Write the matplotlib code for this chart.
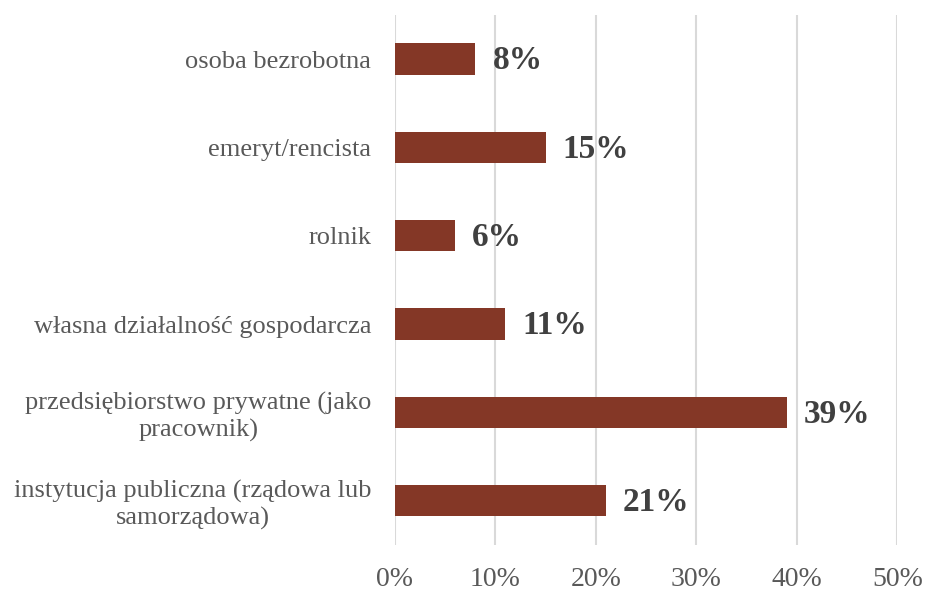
import matplotlib.pyplot as plt
import numpy as np

plt.rcParams['font.family'] = ['Liberation Serif', 'DejaVu Serif']

# categories listed bottom to top
categories = [
    'instytucja publiczna (rządowa lub\nsamorządowa)',
    'przedsiębiorstwo prywatne (jako\npracownik)',
    'własna działalność gospodarcza',
    'rolnik',
    'emeryt/rencista',
    'osoba bezrobotna',
]
shares = [21, 39, 11, 6, 15, 8]
ticks = [0, 10, 20, 30, 40, 50]

bar_color = '#843726'
text_color = '#595959'

fig = plt.figure(figsize=(9.25, 5.93), dpi=100)
ax = fig.add_axes([0.427, 0.081, 0.543, 0.894])

y = np.arange(len(categories))
ax.barh(y, shares, height=0.355, color=bar_color, zorder=3)

for yi, v in zip(y, shares):
    ax.text(v + 1.7, yi - 0.02, f'{v}%', va='center', ha='left',
            fontsize=24, fontweight='bold', color='#404040')

ax.set_xlim(0, 50)
ax.set_ylim(-0.5, len(categories) - 0.5)
ax.set_xticks(ticks)
ax.set_xticklabels([f'{t}%' for t in ticks], fontsize=20, color=text_color)
ax.set_yticks(y)
ax.set_yticklabels(categories, fontsize=19, color=text_color,
                   ha='right', multialignment='center', linespacing=1.2)
ax.tick_params(axis='y', length=0, pad=17)
ax.tick_params(axis='x', length=0, pad=16)
ax.grid(axis='x', color='#d9d9d9', linewidth=1.5, zorder=0)
for s in ax.spines.values():
    s.set_visible(False)

fig.savefig('out.png', dpi=100)
